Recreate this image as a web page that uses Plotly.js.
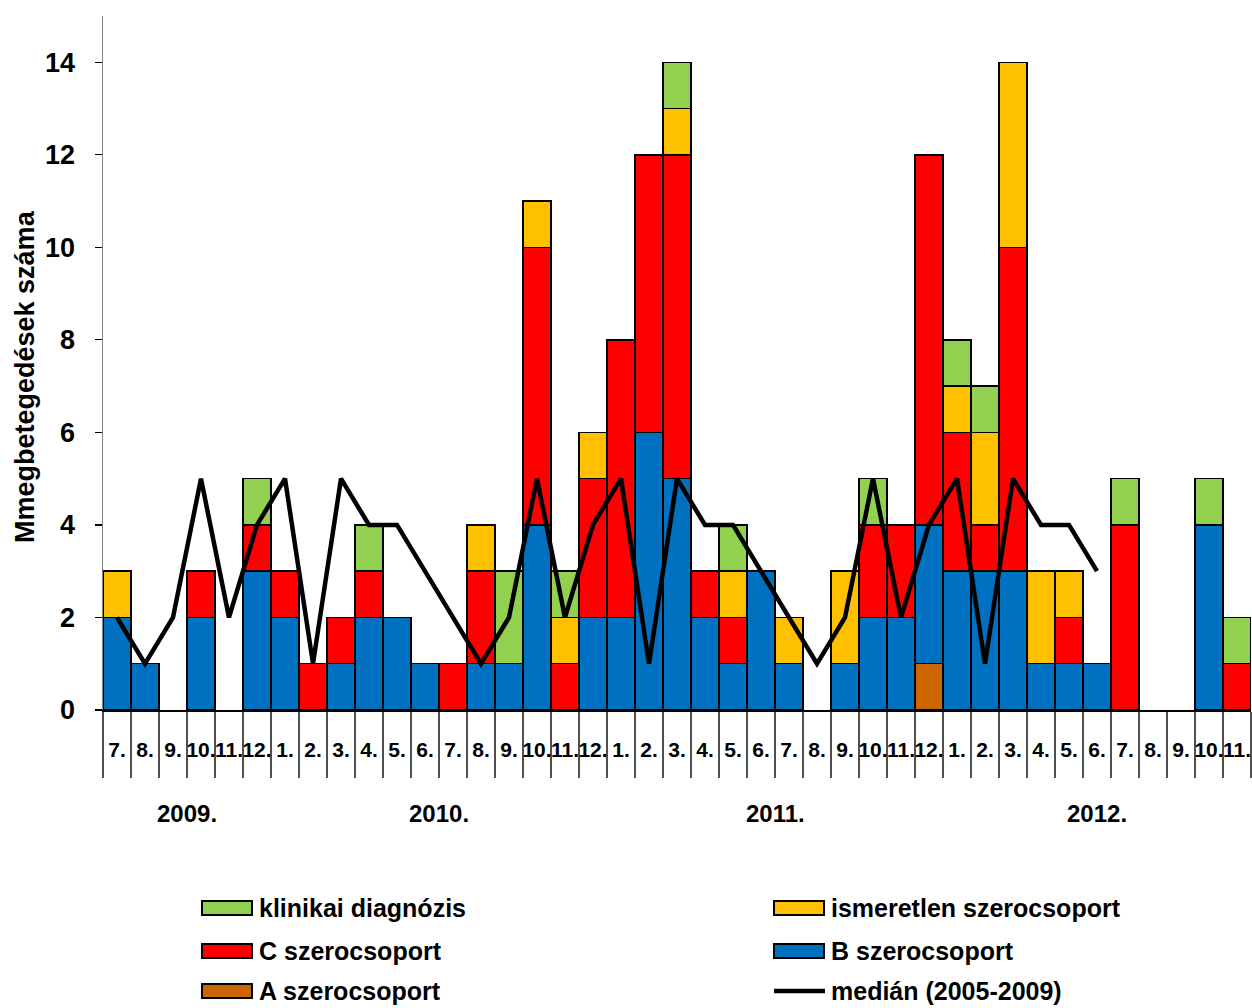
<!DOCTYPE html>
<html>
<head>
<meta charset="utf-8">
<script src="https://cdn.plot.ly/plotly-3.0.1.min.js"></script>
<style>html,body{margin:0;padding:0;background:#fff;}#chart{width:1252px;height:1008px;}</style>
</head>
<body>
<div id="chart"></div>
<script>
// ---- data ----
const months = ['7.','8.','9.','10.','11.','12.',
  '1.','2.','3.','4.','5.','6.','7.','8.','9.','10.','11.','12.',
  '1.','2.','3.','4.','5.','6.','7.','8.','9.','10.','11.','12.',
  '1.','2.','3.','4.','5.','6.','7.','8.','9.','10.','11.'];
const years = ['2009.','2010.','2011.','2012.'];
const seriesNames = ['A szerocsoport','B szerocsoport','C szerocsoport','ismeretlen szerocsoport','klinikai diagnózis'];
const medianName = 'medián (2005-2009)';
const serA = [0,0,0,0,0,0, 0,0,0,0,0,0,0,0,0,0,0,0, 0,0,0,0,0,0,0,0,0,0,0,1, 0,0,0,0,0,0,0,0,0,0,0];
const serB = [2,1,0,2,0,3, 2,0,1,2,2,1,0,1,1,4,0,2, 2,6,5,2,1,3,1,0,1,2,2,3, 3,3,3,1,1,1,0,0,0,4,0];
const serC = [0,0,0,1,0,1, 1,1,1,1,0,0,1,2,0,6,1,3, 6,6,7,1,1,0,0,0,0,2,2,8, 3,1,7,0,1,0,4,0,0,0,1];
const serUnknown = [1,0,0,0,0,0, 0,0,0,0,0,0,0,1,0,1,1,1, 0,0,1,0,1,0,1,0,2,0,0,0, 1,2,4,2,1,0,0,0,0,0,0];
const serClinical = [0,0,0,0,0,1, 0,0,0,1,0,0,0,0,2,0,1,0, 0,0,1,0,1,0,0,0,0,1,0,0, 1,1,0,0,0,0,1,0,0,1,1];
const median = [2,1,2,5,2,4, 5,1,5,4,4,3,2,1,2,5,2,4, 5,1,5,4,4,3,2,1,2,5,2,4, 5,1,5,4,4,3];
const yTicks = [0,2,4,6,8,10,12,14];

// ---- styles ----
const colors = ['#CC6600','#0070C0','#FF0000','#FFC000','#92D050'];
const FONT = 'Arial, "Liberation Sans", sans-serif';

const idx = months.map((_, i) => i);
const allSeries = [serA, serB, serC, serUnknown, serClinical];

const traces = allSeries.map((s, k) => ({
  type: 'bar',
  name: seriesNames[k],
  x: idx,
  y: s.map(v => v === 0 ? null : v),
  marker: {color: colors[k], line: {color: '#000', width: 1.5}},
  width: 1,
  showlegend: false,
  hoverinfo: 'y+name'
}));
traces.push({
  type: 'scatter',
  mode: 'lines',
  name: medianName,
  x: median.map((_, i) => i),
  y: median,
  line: {color: '#000', width: 4.5},
  showlegend: false
});

// year groups from month labels (a new year starts at "1.")
const groups = [];
let start = 0;
for (let i = 1; i <= months.length; i++) {
  if (i === months.length || months[i] === '1.') { groups.push([start, i - 1]); start = i; }
}

const shapes = [];
const annotations = [];
groups.forEach((g, gi) => {
  shapes.push({type: 'line', xref: 'x', yref: 'y', ysizemode: 'pixel', yanchor: 0,
    x0: g[0] - 0.5, x1: g[0] - 0.5, y0: 0, y1: -133,
    line: {color: '#606060', width: 1.3}});
  annotations.push({xref: 'x', yref: 'y', x: (g[0] + g[1]) / 2, y: 0, yshift: -103,
    text: years[gi], showarrow: false, xanchor: 'center', yanchor: 'middle',
    font: {family: FONT, size: 24, weight: 700, color: '#000'}});
});

// manual legend (pixel helper -> paper)
const L = 103, R = 1251, T = 16, B = 710;
const px = v => (v - L) / (R - L);
const py = v => (B - v) / (B - T);
const legendOrder = [4, 3, 2, 1, 0, -1]; // -1 = median
const colX = [202, 774];
const rowY = [908, 951, 991];
legendOrder.forEach((k, j) => {
  const cx = colX[j % 2], cy = rowY[Math.floor(j / 2)];
  if (k >= 0) {
    shapes.push({type: 'rect', xref: 'paper', yref: 'paper',
      x0: px(cx), x1: px(cx + 50), y0: py(cy - 7), y1: py(cy + 7),
      fillcolor: colors[k], line: {color: '#000', width: 2}});
  } else {
    shapes.push({type: 'line', xref: 'paper', yref: 'paper',
      x0: px(cx), x1: px(cx + 51), y0: py(cy), y1: py(cy),
      line: {color: '#000', width: 4.5}});
  }
  annotations.push({xref: 'paper', yref: 'paper', x: px(cx + 55), y: py(cy),
    xanchor: 'left', yanchor: 'middle', showarrow: false,
    text: k >= 0 ? seriesNames[k] : medianName,
    font: {family: FONT, size: 25, weight: 700, color: '#000'}});
});

const layout = {
  width: 1252, height: 1008,
  margin: {l: 103, r: 1, t: 16, b: 298},
  paper_bgcolor: '#fff', plot_bgcolor: '#fff',
  barmode: 'stack', bargap: 0,
  showlegend: false,
  font: {family: FONT, color: '#000'},
  xaxis: {
    range: [-0.5, months.length - 0.5],
    tickmode: 'array', tickvals: idx, ticktext: months,
    ticks: '', tickangle: 0, ticklabelstandoff: 20,
    tickfont: {family: FONT, size: 21, weight: 700, color: '#000'},
    minor: {tick0: -0.5, dtick: 1, ticks: 'outside', ticklen: 66, tickwidth: 1.2, tickcolor: '#505050', showgrid: false},
    showline: true, linecolor: '#000', linewidth: 1.8,
    showgrid: false, zeroline: false, fixedrange: true
  },
  yaxis: {
    range: [0, 15],
    tickmode: 'array', tickvals: yTicks,
    ticks: 'outside', ticklen: 7, tickwidth: 1.2, tickcolor: '#000',
    ticklabelstandoff: 14,
    tickfont: {family: FONT, size: 27, weight: 700, color: '#000'},
    showline: true, linecolor: '#808080', linewidth: 1.5,
    showgrid: false, zeroline: false
  },
  shapes: shapes,
  annotations: annotations.concat([{
    xref: 'paper', yref: 'paper', x: px(25), y: py(377), textangle: -90,
    xanchor: 'center', yanchor: 'middle', showarrow: false,
    text: 'Mmegbetegedések száma',
    font: {family: FONT, size: 27, weight: 700, color: '#000'}
  }])
};

Plotly.newPlot('chart', traces, layout, {displayModeBar: false, staticPlot: true});
</script>
</body>
</html>
